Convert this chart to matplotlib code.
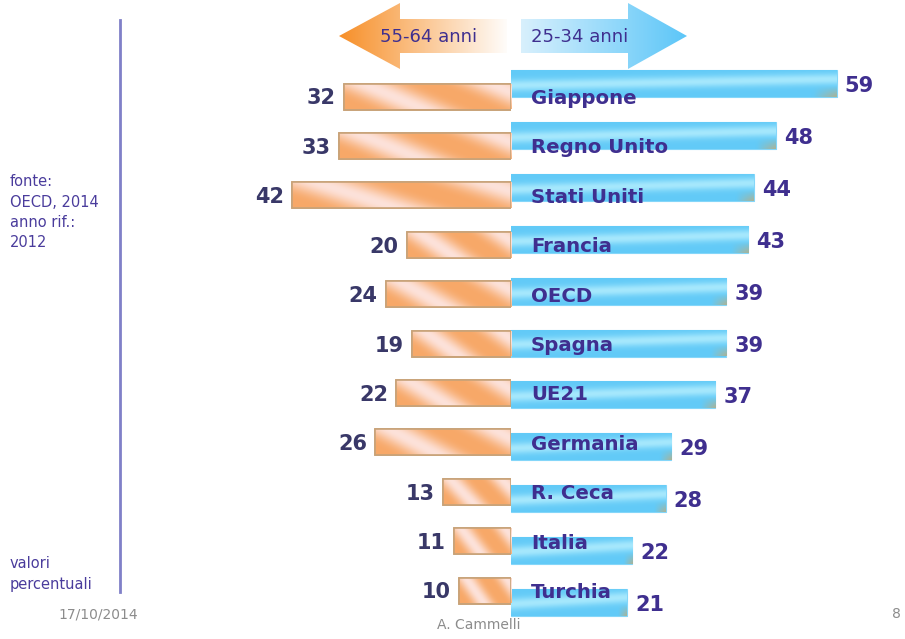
import numpy as np
import matplotlib
matplotlib.use("Agg")
import matplotlib.pyplot as plt
from matplotlib.patches import Polygon
from matplotlib.colors import to_rgb

# ---------------- data ----------------
countries = ["Giappone", "Regno Unito", "Stati Uniti", "Francia", "OECD", "Spagna",
             "UE21", "Germania", "R. Ceca", "Italia", "Turchia"]
age_55_64 = [32, 33, 42, 20, 24, 19, 22, 26, 13, 11, 10]
age_25_34 = [59, 48, 44, 43, 39, 39, 37, 29, 28, 22, 21]
legend_left = "55-64 anni"
legend_right = "25-34 anni"
note_source = ["fonte:", "OECD, 2014", "anno rif.:", "2012"]
note_units = ["valori", "percentuali"]
footer_date = "17/10/2014"
footer_author = "A. Cammelli"
footer_page = "8"

# ---------------- figure ----------------
W, H = 905, 639
fig = plt.figure(figsize=(W / 100, H / 100), dpi=100)
fig.patch.set_facecolor("white")

PURPLE = "#3f2f8f"
DARKNUM = "#393868"
GRAY = "#8c8c8c"
FONT = "DejaVu Sans"

x_mid = 511
sc_l, sc_r = 5.22, 5.52          # px per unit
l_left_px = 190
ax_r = fig.add_axes([x_mid / W, 0, (W - x_mid) / W, 1], zorder=2)
b_c0, b_step = 83.5, 51.9
ax_l = fig.add_axes([l_left_px / W, 0, (x_mid - l_left_px) / W, 1], zorder=3)
o_c0, o_step = 96.5, 49.4

def set_limits():
    ax_l.set_xlim((x_mid - l_left_px) / sc_l, 0)
    ax_l.set_ylim((H - o_c0) / o_step, -o_c0 / o_step)
    ax_r.set_xlim(0, (W - x_mid) / sc_r)
    ax_r.set_ylim((H - b_c0) / b_step, -b_c0 / b_step)

set_limits()
for a in (ax_l, ax_r):
    a.axis("off")
    a.patch.set_visible(False)

n = len(countries)
ypos = np.arange(n)

def orange_img(ny=20, nx=120):
    X, Y = np.meshgrid(np.linspace(0, 1, nx), np.linspace(0, 1, ny))
    t = 0.5 + 0.5 * np.sin(2 * np.pi * (1.3 * X + 0.45 * Y) + 0.6)
    t = t ** 1.6
    c1 = np.array(to_rgb("#f7a868"))
    c2 = np.array(to_rgb("#fde2da"))
    img = c1[None, None, :] * (1 - t[..., None]) + c2[None, None, :] * t[..., None]
    return img

def blue_img(ny=20, nx=120):
    X, Y = np.meshgrid(np.linspace(0, 1, nx), np.linspace(0, 1, ny))
    t = np.exp(-((Y - 0.45 + 0.25 * (X - 0.5)) / 0.22) ** 2)
    c1 = np.array(to_rgb("#62caf7"))
    c2 = np.array(to_rgb("#a6e8fd"))
    img = c1[None, None, :] * (1 - t[..., None]) + c2[None, None, :] * t[..., None]
    olive = np.array(to_rgb("#a8b49a"))
    s = np.clip((X - 0.93) / 0.07, 0, 1) * np.clip((Y - 0.6) / 0.4, 0, 1)
    img = img * (1 - s[..., None]) + olive[None, None, :] * s[..., None]
    return img

def fill_gradient(ax, patch, img):
    bb = patch.get_bbox()
    im = ax.imshow(img, extent=(bb.x0, bb.x1, bb.y0, bb.y1), origin="lower",
                   aspect="auto", interpolation="bilinear",
                   zorder=patch.get_zorder() + 0.05)
    im.set_clip_path(patch)

bars_l = ax_l.barh(ypos, age_55_64, height=26 / o_step, color="#f8b67a",
                   edgecolor="#c8a278", linewidth=1.2, zorder=2)
bars_r = ax_r.barh(ypos, age_25_34, height=27 / b_step, color="#62c9f6",
                   edgecolor="#84d6f9", linewidth=0.8, zorder=2)
for p in bars_l:
    fill_gradient(ax_l, p, orange_img())
for p in bars_r:
    fill_gradient(ax_r, p, blue_img())
for p in bars_l:
    bb = p.get_bbox()
    ax_l.add_patch(plt.Rectangle((bb.x0, bb.y0), bb.width, bb.height, fill=False,
                                 edgecolor="#c8a278", linewidth=1.2, zorder=3))
set_limits()

# value labels
for i, v in enumerate(age_55_64):
    ax_l.text(v + 8 / sc_l, i + 8 / o_step, str(v), ha="right", va="baseline",
              fontsize=15, fontweight="bold", color=DARKNUM, family=FONT, zorder=5)
for i, v in enumerate(age_25_34):
    ax_r.text(v + 8 / sc_r, i + 8.5 / b_step, str(v), ha="left", va="baseline",
              fontsize=15, fontweight="bold", color=PURPLE, family=FONT, zorder=5)
# country labels (aligned with orange rows)
for i, c in enumerate(countries):
    ax_l.text(-20 / sc_l, i + 7.5 / o_step, c, ha="left", va="baseline",
              fontsize=14.2, fontweight="bold", color=PURPLE, family=FONT,
              zorder=6, clip_on=False)

# ---------------- decorations overlay ----------------
ax_o = fig.add_axes([0, 0, 1, 1], zorder=1)
ax_o.patch.set_visible(False)
ax_o.axis("off")

def grad_poly(ax, pts, c_from, c_to, x0, x1):
    poly = Polygon(pts, closed=True, facecolor="none", edgecolor="none")
    ax.add_patch(poly)
    X = np.linspace(0, 1, 200)[None, :].repeat(4, 0)
    a = np.array(to_rgb(c_from)); b = np.array(to_rgb(c_to))
    img = a[None, None, :] * (1 - X[..., None]) + b[None, None, :] * X[..., None]
    ys = [p[1] for p in pts]
    im = ax.imshow(img, extent=(x0, x1, max(ys), min(ys)), aspect="auto",
                   interpolation="bilinear", zorder=1)
    im.set_clip_path(poly)

orange_arrow = [(339, 36), (400, 3), (400, 19), (507, 19), (507, 53), (400, 53), (400, 69)]
blue_arrow = [(521, 19), (628, 19), (628, 3), (687, 36), (628, 69), (628, 53), (521, 53)]
grad_poly(ax_o, orange_arrow, "#f78f28", "#ffffff", 339, 510)
grad_poly(ax_o, blue_arrow, "#d8f0fd", "#5cc6f8", 521, 687)
ax_o.set_xlim(0, W)
ax_o.set_ylim(H, 0)

ax_o.text(429, 37, legend_left, ha="center", va="center", fontsize=13,
          color=PURPLE, family=FONT, zorder=3)
ax_o.text(580, 37, legend_right, ha="center", va="center", fontsize=13,
          color=PURPLE, family=FONT, zorder=3)

# vertical rule
ax_o.plot([120, 120], [20, 592], color="#8080c8", lw=2, zorder=2)

# side notes
for k, s in enumerate(note_source):
    ax_o.text(10, 182 + k * 20.3, s, ha="left", va="center", fontsize=10.5,
              color="#4a3c9c", family=FONT)
for k, s in enumerate(note_units):
    ax_o.text(10, 564 + k * 20.3, s, ha="left", va="center", fontsize=10.5,
              color="#4a3c9c", family=FONT)

# footer
ax_o.text(58, 614, footer_date, ha="left", va="center", fontsize=10,
          color=GRAY, family=FONT)
ax_o.text(479, 625, footer_author, ha="center", va="center", fontsize=10,
          color=GRAY, family=FONT)
ax_o.text(901, 614, footer_page, ha="right", va="center", fontsize=10,
          color=GRAY, family=FONT)

fig.savefig("out.png", dpi=100, facecolor="white")
